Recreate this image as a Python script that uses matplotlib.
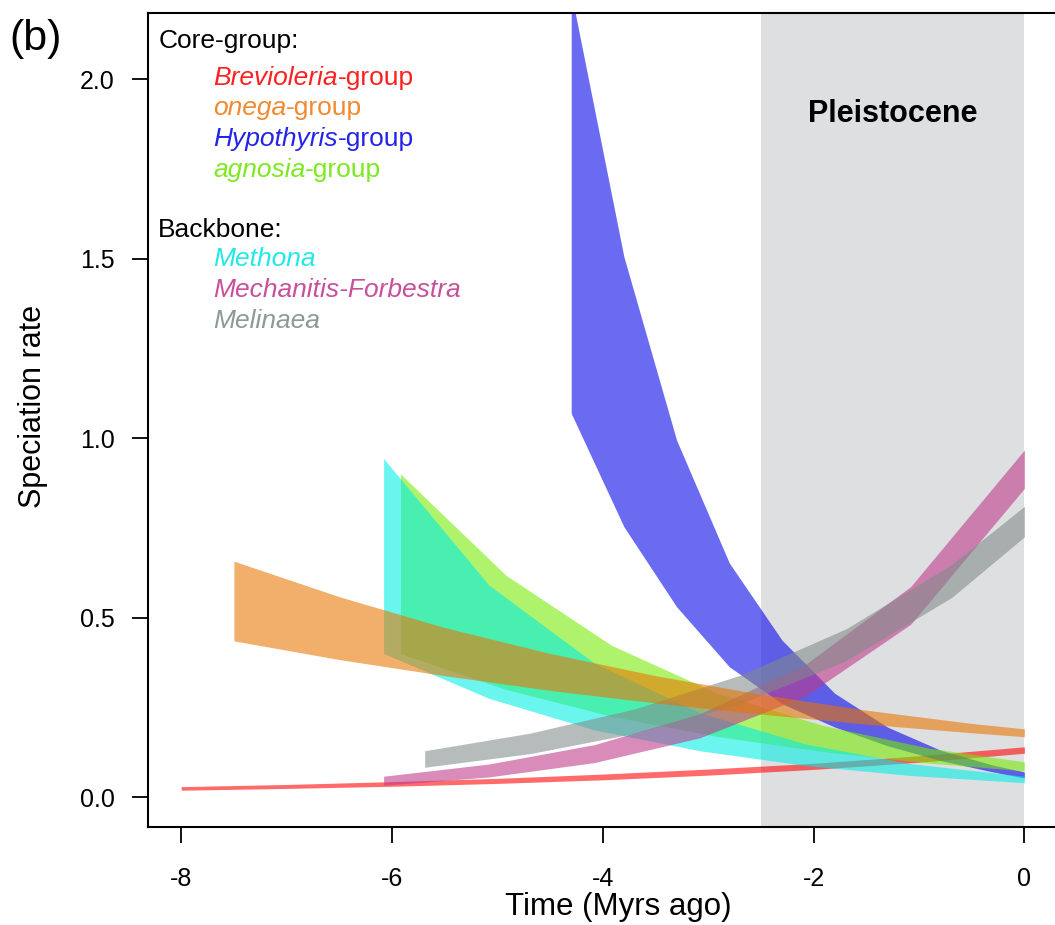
import matplotlib
matplotlib.use("Agg")
import matplotlib.pyplot as plt

plt.rcParams["font.family"] = ["Liberation Sans", "DejaVu Sans"]
plt.rcParams["axes.unicode_minus"] = False

# time in Myrs (negative = before present), lower / upper speciation-rate bounds
brev_t  = [-8, -7, -6, -5, -4, -3, -2, -1, 0]
brev_lo = [0.019, 0.024, 0.030, 0.038, 0.048, 0.061, 0.077, 0.097, 0.122]
brev_hi = [0.029, 0.035, 0.043, 0.052, 0.064, 0.078, 0.094, 0.115, 0.140]

onega_t  = [-7.5, -6.5, -5.5, -4.5, -3.5, -2.5, -1.5, -0.5, 0]
onega_lo = [0.435, 0.383, 0.338, 0.297, 0.262, 0.231, 0.203, 0.179, 0.168]
onega_hi = [0.657, 0.558, 0.472, 0.400, 0.338, 0.286, 0.242, 0.205, 0.190]

hypo_t  = [-4.3, -3.8, -3.3, -2.8, -2.3, -1.8, -1.3, -0.8, -0.3, 0]
hypo_lo = [1.069, 0.753, 0.530, 0.363, 0.260, 0.195, 0.143, 0.102, 0.070, 0.053]
hypo_hi = [2.240, 1.505, 0.994, 0.652, 0.437, 0.289, 0.195, 0.131, 0.089, 0.070]

agn_t  = [-5.92, -4.92, -3.92, -2.92, -1.92, -0.92, 0]
agn_lo = [0.400, 0.300, 0.225, 0.169, 0.127, 0.095, 0.073]
agn_hi = [0.900, 0.618, 0.423, 0.290, 0.200, 0.137, 0.098]

meth_t  = [-6.08, -5.08, -4.08, -3.08, -2.08, -1.08, 0]
meth_lo = [0.400, 0.275, 0.187, 0.129, 0.088, 0.060, 0.040]
meth_hi = [0.943, 0.590, 0.373, 0.235, 0.148, 0.093, 0.058]

mech_t  = [-6.08, -5.08, -4.08, -3.08, -2.08, -1.08, 0]
mech_lo = [0.033, 0.056, 0.096, 0.165, 0.281, 0.481, 0.860]
mech_hi = [0.058, 0.092, 0.146, 0.232, 0.369, 0.586, 0.967]

meli_t  = [-5.69, -4.69, -3.69, -2.69, -1.69, -0.69, 0]
meli_lo = [0.083, 0.121, 0.178, 0.260, 0.380, 0.556, 0.725]
meli_hi = [0.129, 0.178, 0.246, 0.340, 0.469, 0.648, 0.810]

# band fill colours (drawn translucent) and the matching legend text colours
BREV, ONEGA, HYPO, AGN = "#ff0000", "#e97400", "#0000e9", "#75ea00"
METH, MECH, MELI = "#00eee5", "#be3988", "#818a8a"
ALPHA = 0.58
TXT = {
    "brev": "#ff2020", "onega": "#f08a30", "hypo": "#2424e8", "agn": "#7ee820",
    "meth": "#22e8e8", "mech": "#c8509a", "meli": "#8f9898",
}

W, H = 1055, 925
fig = plt.figure(figsize=(W / 100, H / 100), dpi=100)
ax = fig.add_axes([147.5 / W, (H - 827.2) / H, 8.64 * 105.4 / W, 2.268 * 359 / H])
ax.set_xlim(-8.32, 0.32)
ax.set_ylim(-0.084, 2.184)

# Pleistocene shading
ax.axvspan(-2.5, 0, color="#dedfe1", lw=0, zorder=1)
ax.text(-1.25, 1.881, "Pleistocene", ha="center", va="baseline",
        fontsize=22, fontweight="bold", zorder=5)

# drawing order decides how the translucent bands mix
bands = [
    (brev_t, brev_lo, brev_hi, BREV),
    (hypo_t, hypo_lo, hypo_hi, HYPO),
    (agn_t, agn_lo, agn_hi, AGN),
    (meth_t, meth_lo, meth_hi, METH),
    (mech_t, mech_lo, mech_hi, MECH),
    (meli_t, meli_lo, meli_hi, MELI),
    (onega_t, onega_lo, onega_hi, ONEGA),
]
for t, lo, hi, col in bands:
    ax.fill_between(t, lo, hi, color=col, alpha=ALPHA, lw=0, zorder=2)

ax.set_xticks([-8, -6, -4, -2, 0])
ax.set_yticks([0.0, 0.5, 1.0, 1.5, 2.0])
ax.set_yticklabels(["0.0", "0.5", "1.0", "1.5", "2.0"])
ax.tick_params(direction="out", length=11.5, width=1.3, labelsize=18, colors="black")
ax.tick_params(axis="x", pad=17.5)
ax.tick_params(axis="y", pad=12)
for s in ax.spines.values():
    s.set_linewidth(1.5)
ax.spines["right"].set_visible(False)

fig.text(33 / W, 1 - 406 / H, "Speciation rate", rotation=90,
         ha="center", va="center", fontsize=22)
fig.text(618 / W, 1 - 907 / H, "Time (Myrs ago)", ha="center", va="center", fontsize=22.5)
fig.text(9 / W, 1 - 50 / H, "(b)", ha="left", va="baseline", fontsize=31)


def legend_entry(x_px, base_px, italic, plain, color):
    t = fig.text(x_px / W, 1 - base_px / H, italic, color=color, style="italic",
                 fontsize=19, va="baseline", ha="left")
    if plain:
        ax.annotate(plain, xy=(1, 0), xycoords=t, ha="left", va="bottom",
                    color=color, fontsize=19, annotation_clip=False)


fig.text(159 / W, 1 - 48.3 / H, "Core-group:", fontsize=19, va="baseline")
legend_entry(213, 85, "Brevioleria", "-group", TXT["brev"])
legend_entry(213, 115.5, "onega", "-group", TXT["onega"])
legend_entry(213, 146.5, "Hypothyris", "-group", TXT["hypo"])
legend_entry(213, 177, "agnosia", "-group", TXT["agn"])

fig.text(158 / W, 1 - 236.7 / H, "Backbone:", fontsize=19, va="baseline")
legend_entry(213, 266, "Methona", "", TXT["meth"])
legend_entry(213, 297, "Mechanitis-Forbestra", "", TXT["mech"])
legend_entry(213, 328, "Melinaea", "", TXT["meli"])

fig.savefig("out.png", dpi=100)
